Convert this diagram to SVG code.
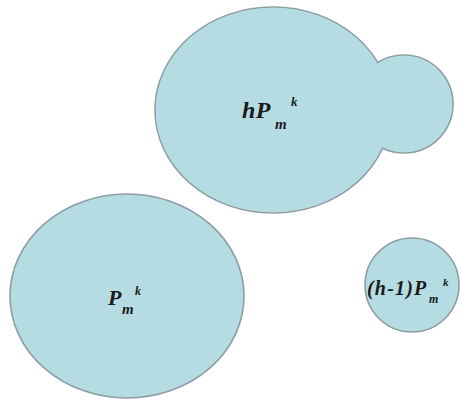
<svg xmlns="http://www.w3.org/2000/svg" width="461" height="403" viewBox="0 0 461 403">
<style>
.s{fill:#b5dce3;stroke:#8c9ea3;stroke-width:1.6}
.f{fill:#b5dce3;stroke:none}
.t{font-family:"Liberation Serif","Times New Roman",serif;font-weight:bold;font-style:italic;fill:#1a1a1a}
</style>
<rect width="461" height="403" fill="#ffffff"/>
<g id="node-hP">
<ellipse class="s" cx="273" cy="110" rx="118" ry="103"/>
<circle class="s" cx="404" cy="104" r="49"/>
<ellipse class="f" cx="273" cy="110" rx="117.2" ry="102.2"/>
<circle class="f" cx="404" cy="104" r="48.2"/>
<text class="t" x="242" y="118" font-size="24" letter-spacing="0.5">hP<tspan font-size="15" letter-spacing="0" x="275" y="129">m</tspan><tspan font-size="13" letter-spacing="0" x="291" y="106">k</tspan></text>
</g>
<g id="node-P">
<ellipse class="s" cx="127" cy="296" rx="117" ry="102"/>
<text class="t" x="108" y="305" font-size="22">P<tspan font-size="15" x="122" y="314">m</tspan><tspan font-size="12" x="135" y="295">k</tspan></text>
</g>
<g id="node-h1P">
<circle class="s" cx="412" cy="285" r="47"/>
<text class="t" x="367" y="295" font-size="20" letter-spacing="1.2">(h-1)P<tspan font-size="12" letter-spacing="0" x="429" y="303">m</tspan><tspan font-size="11" letter-spacing="0" x="443" y="286">k</tspan></text>
</g>
<g id="connectors"/>
</svg>
